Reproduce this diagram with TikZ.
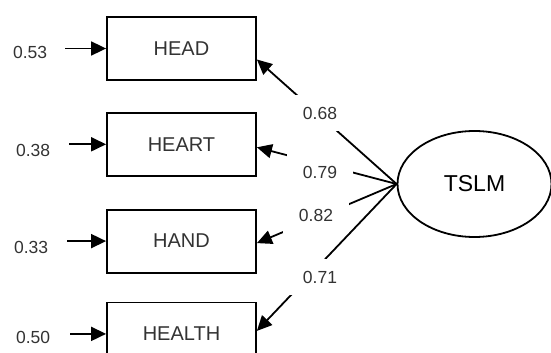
\documentclass[tikz,border=0pt]{standalone}
\usepackage{fontspec}
\setmainfont{Liberation Sans}
\usetikzlibrary{arrows.meta, positioning, shapes.geometric}
\tikzset{
  ind/.style = {draw=black, line width=1.8pt, minimum width=149pt,
    minimum height=63pt, inner sep=0pt, text=black!80,
    font=\fontsize{20}{24}\selectfont},
  err/.style = {inner sep=0pt, text=black!80,
    font=\fontsize{17.5}{20}\selectfont},
  coef/.style = {fill=white, inner xsep=16pt, inner ysep=12pt, text=black!80,
    font=\fontsize{17.5}{20}\selectfont},
  lat/.style = {ellipse, draw=black, line width=1.8pt, minimum width=154pt,
    minimum height=106pt, inner sep=0pt, font=\fontsize{23}{27}\selectfont}
}
\begin{document}
\begin{tikzpicture}[x=1pt, y=-1pt, ->, >={Triangle[length=15pt, width=14pt]},
  line width=1.8pt, node distance=31pt]
\useasboundingbox (0,0) rectangle (551,353);
% indicators
\node [ind] (head) at (181.5,48.5) {HEAD};
\node [ind, below=31pt of head] (heart) {HEART};
\node [ind, below=32pt of heart] (hand) {HAND};
\node [ind, below=28pt of hand] (health) {HEALTH};
% latent
\node [lat] (tslm) at (474.5,184) {TSLM};
% errors
\node [err, left=58pt of head, yshift=-4pt] (e1) {0.53};
\node [err, left=55pt of heart, yshift=-6pt] (e2) {0.38};
\node [err, left=57pt of hand, yshift=-6pt] (e3) {0.33};
\node [err, left=55pt of health, yshift=-4pt] (e4) {0.50};
\draw ([xshift=-41pt]head.west) -- (head.west);
\draw ([xshift=-37pt]heart.west) -- (heart.west);
\draw ([xshift=-39pt]hand.west) -- (hand.west);
\draw ([xshift=-36pt]health.west) -- (health.west);
% loadings
\draw (tslm.west) -- ([yshift=-11pt]head.east);
\draw (tslm.west) -- ([yshift=-3pt]heart.east);
\draw (tslm.west) -- ([yshift=-2pt]hand.east);
\draw (tslm.west) -- ([yshift=3pt]health.east);
\node [coef] (l1) at (320,113) {0.68};
\node [coef] (l2) at (320,172) {0.79};
\node [coef] (l3) at (316,215) {0.82};
\node [coef] (l4) at (320,277) {0.71};
\end{tikzpicture}
\end{document}
